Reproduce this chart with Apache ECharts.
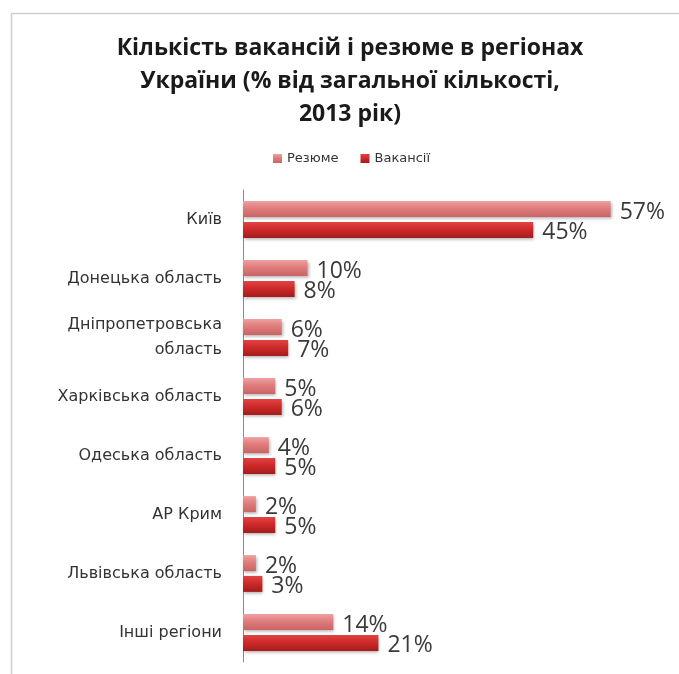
<!DOCTYPE html>
<html>
<head>
<meta charset="utf-8">
<script src="https://cdn.jsdelivr.net/npm/echarts@6/dist/echarts.min.js"></script>
<style>
  html, body { margin: 0; padding: 0; background: #fff; }
  #chart { width: 679px; height: 674px; }
</style>
</head>
<body>
<div id="chart"></div>
<script>
// Regions, top to bottom
const regions = [
  'Київ',
  'Донецька область',
  'Дніпропетровська\nобласть',
  'Харківська область',
  'Одеська область',
  'АР Крим',
  'Львівська область',
  'Інші регіони'
];
// Share of all CVs, %
const resumeShare = [57, 10, 6, 5, 4, 2, 2, 14];
// Share of all vacancies, %
const vacancyShare = [45, 8, 7, 6, 5, 5, 3, 21];

const seriesNames = ['Резюме', 'Вакансії'];

const chart = echarts.init(document.getElementById('chart'));

function grad(top, mid, bottom) {
  return new echarts.graphic.LinearGradient(0, 0, 0, 1, [
    { offset: 0, color: top },
    { offset: 0.45, color: mid },
    { offset: 1, color: bottom }
  ]);
}

const valueLabel = {
  show: true,
  position: 'right',
  distance: 9,
  formatter: p => p.value + '%',
  fontFamily: 'Open Sans',
  fontSize: 23,
  color: '#3a3a3a',
  offset: [0, 3]
};

const barShadow = {
  shadowBlur: 3,
  shadowOffsetX: 1,
  shadowOffsetY: 2,
  shadowColor: 'rgba(0,0,0,0.3)'
};

chart.setOption({
  animation: false,
  backgroundColor: '#fff',
  graphic: [{
    type: 'rect',
    left: 9,
    top: 11,
    shape: { width: 720, height: 720 },
    style: { fill: 'none', stroke: '#cfcfcf', lineWidth: 1.5 },
    silent: true
  }],
  title: {
    text: 'Кількість вакансій і резюме в регіонах\nУкраїни (% від загальної кількості,\n2013 рік)',
    left: 345,
    top: 27,
    textAlign: 'center',
    textStyle: {
      fontFamily: 'Open Sans',
      fontWeight: 'bold',
      fontSize: 23,
      lineHeight: 33,
      color: '#1a1a1a'
    }
  },
  legend: {
    data: seriesNames,
    top: 147,
    left: 268,
    itemWidth: 9,
    itemHeight: 9,
    itemGap: 22,
    icon: 'rect',
    textStyle: { fontFamily: 'DejaVu Sans', fontSize: 13, color: '#333' }
  },
  grid: { left: 243, right: 49, top: 190, bottom: 12, containLabel: false },
  xAxis: {
    type: 'value',
    min: 0,
    max: 60,
    show: false
  },
  yAxis: {
    type: 'category',
    data: regions,
    inverse: true,
    axisLine: { show: true, lineStyle: { color: '#8a8a8a', width: 1 } },
    axisTick: { show: false },
    axisLabel: {
      margin: 21,
      fontFamily: 'DejaVu Sans',
      fontSize: 16,
      lineHeight: 25,
      color: '#333',
      align: 'right'
    }
  },
  series: [
    {
      name: seriesNames[0],
      type: 'bar',
      data: resumeShare,
      barWidth: 16,
      barGap: '30%',
      itemStyle: Object.assign({ color: grad('#eea0a0', '#e07c7c', '#c96464') }, barShadow),
      label: valueLabel
    },
    {
      name: seriesNames[1],
      type: 'bar',
      data: vacancyShare,
      barWidth: 16,
      barGap: '30%',
      itemStyle: Object.assign({ color: grad('#e04444', '#d02a2a', '#a41c1c') }, barShadow),
      label: valueLabel
    }
  ]
});
</script>
</body>
</html>
